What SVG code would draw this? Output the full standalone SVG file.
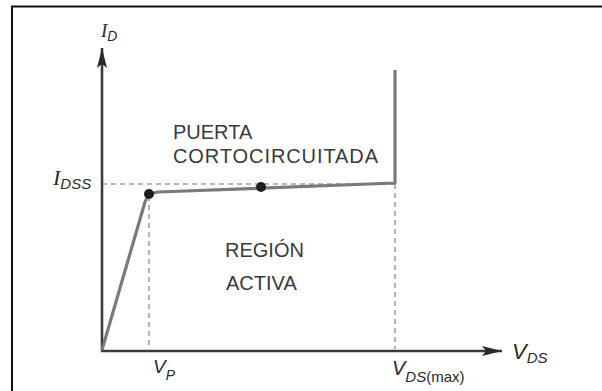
<svg xmlns="http://www.w3.org/2000/svg" width="602" height="391" viewBox="0 0 602 391">
<style>
.frame{fill:none;stroke:#111;stroke-width:2}
.axis{stroke:#3a3a3a;stroke-width:2.6;fill:none}
.curve{stroke:#7a7a7a;stroke-width:3.2;fill:none;stroke-linejoin:round}
.dash{stroke:#a0a0a0;stroke-width:1.6;stroke-dasharray:5,4;fill:none}
.lbl{font-family:"Liberation Sans",Arial,sans-serif;font-size:20px;fill:#3a3a3a}
.var{font-family:"Liberation Sans",Arial,sans-serif;font-style:italic;fill:#2a2a2a}
.ivar{font-family:"Liberation Serif","Times New Roman",serif;font-style:italic;fill:#2a2a2a}
.dot{fill:#1e1e1e}
</style>
<defs>
<marker id="ah" viewBox="0 0 20 10" refX="20" refY="5" markerWidth="20" markerHeight="10" markerUnits="userSpaceOnUse" orient="auto">
<path d="M0,0 L20,5 L0,10 L4,5 Z" fill="#2a2a2a"/>
</marker>
</defs>
<rect class="frame" x="12" y="6.5" width="600" height="400"/>
<g id="connectors">
<line class="dash" x1="102" y1="184" x2="395" y2="184"/>
<line class="dash" x1="149" y1="196" x2="149" y2="349"/>
<line class="dash" x1="395" y1="184" x2="395" y2="349"/>
<line class="axis" x1="102" y1="351" x2="102" y2="48" marker-end="url(#ah)"/>
<line class="axis" x1="101" y1="351" x2="502" y2="351" marker-end="url(#ah)"/>
<path class="curve" d="M102,350 L145,202 Q148,193 158,192 L395,183 L395,70"/>
</g>
<g id="knee"><circle class="dot" cx="149" cy="194" r="5"/></g>
<g id="midpoint"><circle class="dot" cx="261" cy="187" r="5"/></g>
<g id="labels">
<text class="ivar" x="101" y="37" font-size="19">I<tspan class="var" font-size="14" dy="4">D</tspan></text>
<text class="ivar" x="53" y="185" font-size="22">I<tspan class="var" font-size="15" dy="4">DSS</tspan></text>
<text class="var" x="153" y="373" font-size="19">V<tspan font-size="14" dy="7">P</tspan></text>
<text class="var" x="392" y="375" font-size="20">V<tspan font-size="15" dy="7">DS</tspan><tspan font-style="normal" font-size="15">(max)</tspan></text>
<text class="var" x="512" y="359" font-size="22">V<tspan font-size="15" dy="4">DS</tspan></text>
</g>
<g id="gate-shorted">
<text class="lbl" x="173" y="139">PUERTA</text>
<text class="lbl" x="173" y="163" textLength="205">CORTOCIRCUITADA</text>
</g>
<g id="active-region">
<text class="lbl" x="225" y="257">REGIÓN</text>
<text class="lbl" x="226" y="290">ACTIVA</text>
</g>
</svg>
